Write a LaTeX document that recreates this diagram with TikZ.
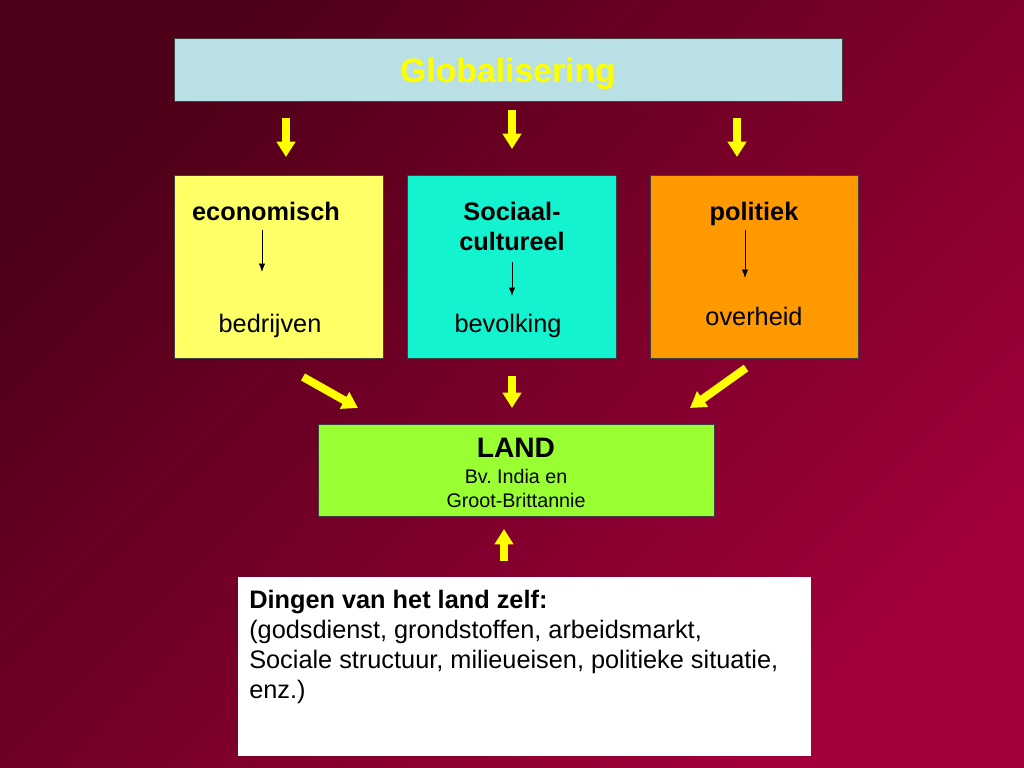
\documentclass[tikz,border=0pt]{standalone}
\usepackage{fontspec}
\setmainfont{Liberation Sans}
\usetikzlibrary{arrows.meta}
\definecolor{bgdark}{HTML}{4E0018}
\definecolor{bglight}{HTML}{A2003A}
\definecolor{globfill}{HTML}{B9E1E5}
\definecolor{ecofill}{HTML}{FFFF66}
\definecolor{socfill}{HTML}{14F3CF}
\definecolor{polfill}{HTML}{FF9900}
\definecolor{landfill}{HTML}{99FF33}
\definecolor{yel}{HTML}{FFFF00}

\begin{document}
\begin{tikzpicture}[x=0.025cm, y=-0.025cm,
  box/.style={draw=black!75, line width=0.6pt, inner sep=0, anchor=north west},
  yarr/.style={draw=yel, line width=5.7pt, -{Triangle[width=13pt, length=11pt]}},
  sarr/.style={line width=0.6pt, -{Latex[length=6pt, width=4.5pt]}},
  head/.style={inner sep=0, anchor=base, font=\fontsize{18}{21.6}\selectfont\bfseries},
  txt/.style={inner sep=0, anchor=base, font=\fontsize{18}{21.6}\selectfont},
  small/.style={inner sep=0, anchor=base, font=\fontsize{14}{16.8}\selectfont}]
% background
\shade[top color=bgdark, bottom color=bglight, shading angle=45]
  (0,0) rectangle (1024,768);
\useasboundingbox (0,0) rectangle (1024,768);
% top box
\node[box, fill=globfill, minimum width=16.7cm, minimum height=1.575cm] (glob) at (174,38) {};
\node[inner sep=0, anchor=base, text=yel, font=\fontsize{24}{28}\selectfont\bfseries] (globT) at (508,83) {Globalisering};
% three boxes
\node[box, fill=ecofill, minimum width=5.225cm, minimum height=4.575cm] (eco) at (174,175) {};
\node[box, fill=socfill, minimum width=5.225cm, minimum height=4.575cm] (soc) at (407,175) {};
\node[box, fill=polfill, minimum width=5.2cm, minimum height=4.575cm] (pol) at (650,175) {};
\node[head] (ecoT) at (266,220) {economisch};
\node[txt]  (ecoB) at (270,332) {bedrijven};
\node[head] (socT) at (512,220) {Sociaal-};
\node[head] (socT2) at (512,250) {cultureel};
\node[txt]  (socB) at (508,332) {bevolking};
\node[head] (polT) at (754,220) {politiek};
\node[txt]  (polB) at (754,325) {overheid};
\coordinate (e1) at (262,230); \coordinate (e2) at (262,272);
\coordinate (s1) at (512,262); \coordinate (s2) at (512,296);
\coordinate (p1) at (745,230); \coordinate (p2) at (745,278);
\draw[sarr] (e1) -- (e2);
\draw[sarr] (s1) -- (s2);
\draw[sarr] (p1) -- (p2);
% land
\node[box, fill=landfill, minimum width=9.9cm, minimum height=2.3cm] (land) at (318,424) {};
\node[inner sep=0, anchor=base, font=\fontsize{20}{24}\selectfont\bfseries] (landT) at (516,457) {LAND};
\node[small] (landB) at (516,483) {Bv.\ India en};
\node[small] (landC) at (516,507) {Groot-Brittannie};
% own factors
\node[box, fill=white, draw=none, minimum width=14.3cm, minimum height=4.475cm] (self) at (238,577) {};
\node[inner sep=0, anchor=north west, align=left, font=\fontsize{18}{21.3}\selectfont] (selfT) at (249,590)
  {\textbf{Dingen van het land zelf:}\\
   (godsdienst, grondstoffen, arbeidsmarkt,\\
   Sociale structuur, milieueisen, politieke situatie,\\
   enz.)};
% yellow arrows
\coordinate (g1) at (286,118); \coordinate (g1e) at (286,157);
\coordinate (g2) at (512,110); \coordinate (g2e) at (512,149);
\coordinate (g3) at (737,118); \coordinate (g3e) at (737,157);
\coordinate (l1) at (303,377); \coordinate (l1e) at (358,408);
\coordinate (l2) at (512,376); \coordinate (l2e) at (512,408);
\coordinate (l3) at (746,368); \coordinate (l3e) at (690,408);
\coordinate (u1) at (504,561); \coordinate (u1e) at (504,529);
\draw[yarr] (g1) -- (g1e);
\draw[yarr] (g2) -- (g2e);
\draw[yarr] (g3) -- (g3e);
\draw[yarr] (l1) -- (l1e);
\draw[yarr] (l2) -- (l2e);
\draw[yarr] (l3) -- (l3e);
\draw[yarr] (u1) -- (u1e);
\end{tikzpicture}
\end{document}
